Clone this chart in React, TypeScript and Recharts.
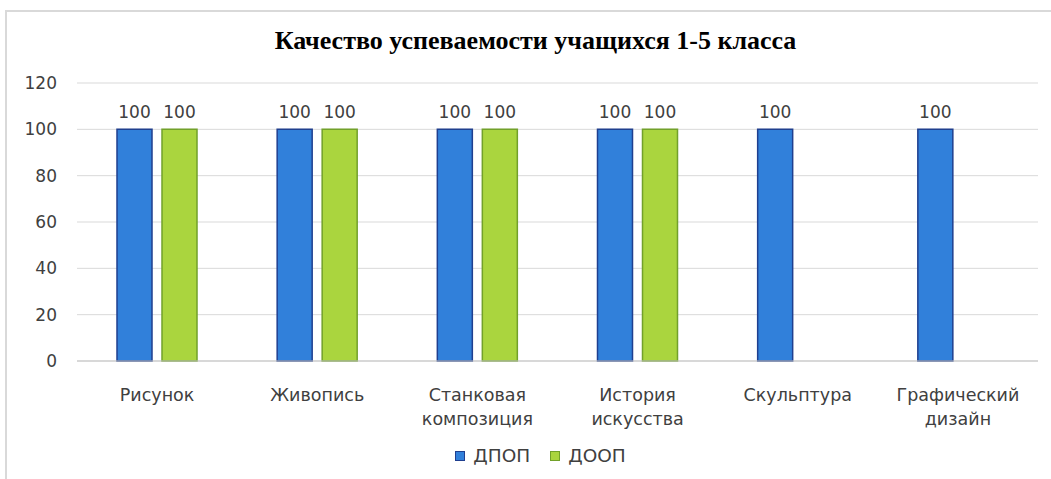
import React from 'react';
import { BarChart, Bar, XAxis, YAxis, CartesianGrid, Legend, LabelList } from 'recharts';

// Categories and values
const categories = [
  'Рисунок',
  'Живопись',
  'Станковая композиция',
  'История искусства',
  'Скульптура',
  'Графический дизайн',
];
const dpopValues = [100, 100, 100, 100, 100, 100];
const doopValues: (number | null)[] = [100, 100, 100, 100, null, null];
const yTicks = [0, 20, 40, 60, 80, 100, 120];

const TITLE = 'Качество успеваемости учащихся 1-5 класса';
const FONT = '"DejaVu Sans", sans-serif';
const TEXT_COLOR = '#404040';

const SERIES = [
  { key: 'dpop', name: 'ДПОП', fill: '#3180da', stroke: '#1f3f8f' },
  { key: 'doop', name: 'ДООП', fill: '#aad53e', stroke: '#72a12a' },
];

const data = categories.map((name, i) => ({
  name,
  dpop: dpopValues[i],
  doop: doopValues[i],
}));

const CategoryTick = (props: any) => {
  const { x, y, payload } = props;
  const lines = String(payload.value).split(' ');
  return (
    <text x={x} y={y} textAnchor="middle" fill={TEXT_COLOR} fontSize={17.5} fontFamily={FONT}>
      {lines.map((line, i) => (
        <tspan key={i} x={x} dy={i === 0 ? 32 : 24}>
          {line}
        </tspan>
      ))}
    </text>
  );
};

const LegendContent = () => (
  <div
    style={{
      height: 58,
      display: 'flex',
      justifyContent: 'center',
      alignItems: 'flex-end',
      paddingLeft: 26,
      boxSizing: 'border-box',
      fontFamily: FONT,
      fontSize: 18.5,
      color: TEXT_COLOR,
    }}
  >
    {SERIES.map((s) => (
      <div key={s.key} style={{ display: 'flex', alignItems: 'center', margin: '0 10px 13px' }}>
        <div
          style={{
            width: 8,
            height: 8,
            background: s.fill,
            border: `1px solid ${s.stroke}`,
            marginRight: 8,
          }}
        />
        <span>{s.name}</span>
      </div>
    ))}
  </div>
);

export default function App() {
  return (
    <div style={{ position: 'absolute', left: 0, top: 0, width: 1051, height: 479, overflow: 'hidden', background: '#fff' }}>
      {/* chart frame (right and bottom edges fall outside the picture) */}
      <div
        style={{
          position: 'absolute',
          left: 5,
          top: 10,
          width: 1070,
          height: 500,
          border: '2px solid #d9d9d9',
          boxSizing: 'border-box',
        }}
      />
      <div
        style={{
          position: 'absolute',
          left: 0,
          top: 26,
          width: 1051,
          paddingLeft: 20,
          textAlign: 'center',
          fontFamily: '"Liberation Serif", "Times New Roman", serif',
          fontWeight: 'bold',
          fontSize: 26,
          color: '#000',
          boxSizing: 'border-box',
        }}
      >
        {TITLE}
      </div>
      <div style={{ position: 'absolute', left: 0, top: 0 }}>
        <BarChart
          width={1051}
          height={479}
          data={data}
          margin={{ top: 83, right: 13, bottom: 0, left: 17 }}
          barSize={35}
          barGap={10}
        >
          <CartesianGrid vertical={false} stroke="#d9d9d9" />
          <XAxis
            dataKey="name"
            height={60}
            interval={0}
            axisLine={{ stroke: '#c4c4c4' }}
            tickLine={false}
            tick={<CategoryTick />}
          />
          <YAxis
            width={60}
            domain={[0, 120]}
            ticks={yTicks}
            axisLine={false}
            tickLine={false}
            tickMargin={14}
            tick={{ fill: TEXT_COLOR, fontSize: 17, fontFamily: FONT }}
          />
          <Legend verticalAlign="bottom" content={<LegendContent />} />
          {SERIES.map((s) => (
            <Bar
              key={s.key}
              dataKey={s.key}
              name={s.name}
              fill={s.fill}
              stroke={s.stroke}
              strokeWidth={1.5}
              isAnimationActive={false}
            >
              <LabelList
                dataKey={s.key}
                position="top"
                offset={11}
                fill={TEXT_COLOR}
                fontSize={17}
                fontFamily={FONT}
              />
            </Bar>
          ))}
        </BarChart>
      </div>
    </div>
  );
}
